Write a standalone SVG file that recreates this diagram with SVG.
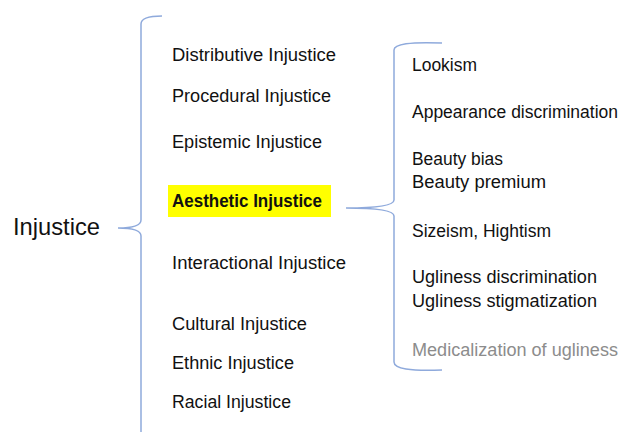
<svg xmlns="http://www.w3.org/2000/svg" width="629" height="432" viewBox="0 0 629 432">
<style>
.t{font-family:"Liberation Sans","Noto Sans",sans-serif;font-size:17.5px;fill:#111}
.b{font-weight:bold}
.g{fill:#8c8c8c}
.br{fill:none;stroke:#8faadc;stroke-width:1.5}
</style>
<rect width="629" height="432" fill="#fff"/>
<g id="connectors">
<path class="br" d="M162,16 Q141,16 141,24 L141,220 Q141,228 118,228 Q141,228 141,236 L141,432"/>
<path class="br" d="M442,43 Q394,41 394,50 L394,200 Q394,208 346,208 Q394,208 394,216 L394,362 Q394,372 442,370"/>
</g>
<g id="root"><text class="t" x="13" y="235" style="font-size:24px" textLength="87" lengthAdjust="spacingAndGlyphs">Injustice</text></g>
<g id="distributive"><text class="t" x="172" y="61" textLength="164" lengthAdjust="spacingAndGlyphs">Distributive Injustice</text></g>
<g id="procedural"><text class="t" x="172" y="102" textLength="159" lengthAdjust="spacingAndGlyphs">Procedural Injustice</text></g>
<g id="epistemic"><text class="t" x="172" y="148" textLength="150" lengthAdjust="spacingAndGlyphs">Epistemic Injustice</text></g>
<g id="aesthetic"><rect x="168" y="185" width="163" height="32" fill="#ffff00"/><text class="t b" x="172" y="207" textLength="150" lengthAdjust="spacingAndGlyphs">Aesthetic Injustice</text></g>
<g id="interactional"><text class="t" x="172" y="269" textLength="174" lengthAdjust="spacingAndGlyphs">Interactional Injustice</text></g>
<g id="cultural"><text class="t" x="172" y="330" textLength="135" lengthAdjust="spacingAndGlyphs">Cultural Injustice</text></g>
<g id="ethnic"><text class="t" x="172" y="369" textLength="122" lengthAdjust="spacingAndGlyphs">Ethnic Injustice</text></g>
<g id="racial"><text class="t" x="172" y="408" textLength="119" lengthAdjust="spacingAndGlyphs">Racial Injustice</text></g>
<g id="lookism"><text class="t" x="412" y="71" textLength="65" lengthAdjust="spacingAndGlyphs">Lookism</text></g>
<g id="appearance"><text class="t" x="412" y="118" textLength="206" lengthAdjust="spacingAndGlyphs">Appearance discrimination</text></g>
<g id="beauty"><text class="t" x="412" y="165" textLength="91" lengthAdjust="spacingAndGlyphs">Beauty bias</text><text class="t" x="412" y="188" textLength="134" lengthAdjust="spacingAndGlyphs">Beauty premium</text></g>
<g id="sizeism"><text class="t" x="412" y="237" textLength="139" lengthAdjust="spacingAndGlyphs">Sizeism, Hightism</text></g>
<g id="ugliness"><text class="t" x="412" y="283" textLength="185" lengthAdjust="spacingAndGlyphs">Ugliness discrimination</text><text class="t" x="412" y="307" textLength="185" lengthAdjust="spacingAndGlyphs">Ugliness stigmatization</text></g>
<g id="medicalization"><text class="t g" x="412" y="356" textLength="206" lengthAdjust="spacingAndGlyphs">Medicalization of ugliness</text></g>
</svg>
